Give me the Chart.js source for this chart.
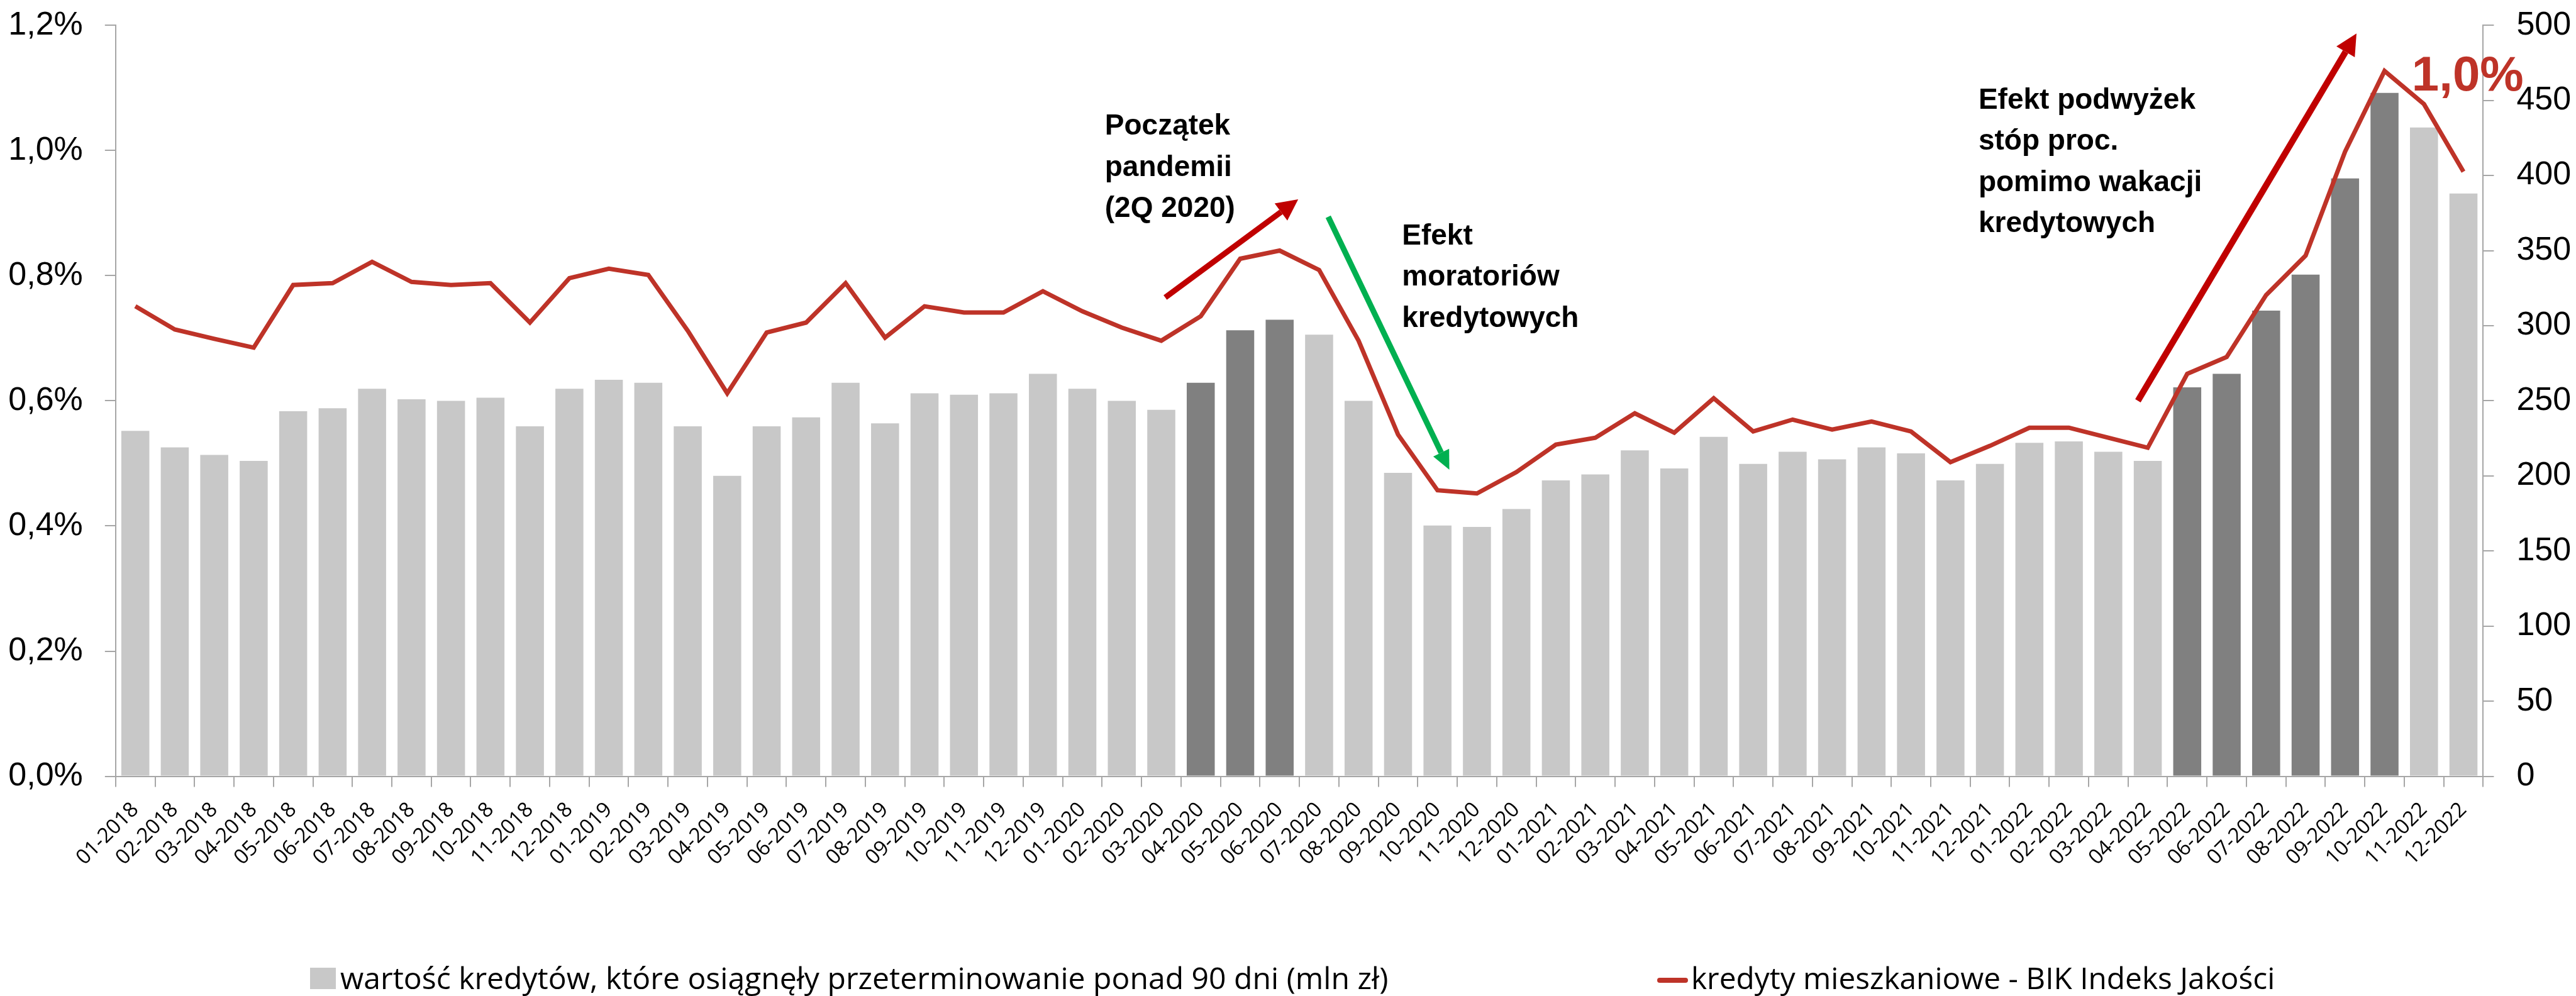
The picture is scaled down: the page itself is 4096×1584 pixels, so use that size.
<!DOCTYPE html>
<html>
<head>
<meta charset="utf-8">
<script src="https://cdn.jsdelivr.net/npm/chart.js@4.4.0/dist/chart.umd.min.js"></script>
<style>
  html, body { margin: 0; padding: 0; background: #fff; }
</style>
</head>
<body>
<canvas id="bikChart" width="4096" height="1584"></canvas>
<script>
  // Data
  const months = [
    '01-2018','02-2018','03-2018','04-2018','05-2018','06-2018','07-2018','08-2018','09-2018','10-2018','11-2018','12-2018',
    '01-2019','02-2019','03-2019','04-2019','05-2019','06-2019','07-2019','08-2019','09-2019','10-2019','11-2019','12-2019',
    '01-2020','02-2020','03-2020','04-2020','05-2020','06-2020','07-2020','08-2020','09-2020','10-2020','11-2020','12-2020',
    '01-2021','02-2021','03-2021','04-2021','05-2021','06-2021','07-2021','08-2021','09-2021','10-2021','11-2021','12-2021',
    '01-2022','02-2022','03-2022','04-2022','05-2022','06-2022','07-2022','08-2022','09-2022','10-2022','11-2022','12-2022'
  ];

  // wartość kredytów z opóźnieniem 90+ dni (mln zł), prawa oś
  const overdueValues = [
    230, 219, 214, 210, 243, 245, 258, 251, 250, 252, 233, 258,
    264, 262, 233, 200, 233, 239, 262, 235, 255, 254, 255, 268,
    258, 250, 244, 262, 297, 304, 294, 250, 202, 167, 166, 178,
    197, 201, 217, 205, 226, 208, 216, 211, 219, 215, 197, 208,
    222, 223, 216, 210, 259, 268, 310, 334, 398, 455, 432, 388
  ];

  // BIK Indeks Jakości (%), lewa oś
  const qualityIndex = [
    0.751, 0.714, 0.699, 0.685, 0.785, 0.788, 0.822, 0.790, 0.785, 0.788, 0.725, 0.796,
    0.811, 0.801, 0.712, 0.612, 0.709, 0.725, 0.788, 0.701, 0.751, 0.741, 0.741, 0.775,
    0.743, 0.717, 0.696, 0.735, 0.827, 0.840, 0.809, 0.696, 0.546, 0.457, 0.452, 0.486,
    0.530, 0.541, 0.580, 0.549, 0.604, 0.551, 0.570, 0.554, 0.567, 0.551, 0.502, 0.528,
    0.557, 0.557, 0.541, 0.525, 0.643, 0.670, 0.769, 0.832, 0.998, 1.127, 1.074, 0.966
  ];

  const highlightedMonths = ['04-2020','05-2020','06-2020','05-2022','06-2022','07-2022','08-2022','09-2022','10-2022'];

  const percentTicks = ['0,0%','0,2%','0,4%','0,6%','0,8%','1,0%','1,2%'];
  const valueTicks = ['0','50','100','150','200','250','300','350','400','450','500'];

  const barLabel = 'wartość kredytów, które osiągnęły przeterminowanie ponad 90 dni (mln zł)';
  const lineLabel = 'kredyty mieszkaniowe - BIK Indeks Jakości';

  const LIGHT = '#C8C8C8';
  const DARK = '#808080';
  const LINE_RED = '#BE3328';
  const AXIS = '#A6A6A6';
  const TICK_FONT = "'Liberation Sans', Arial, sans-serif";
  const LABEL_FONT = "'Open Sans', 'Noto Sans', sans-serif";
  const BOLD_FONT = "'Liberation Sans', Arial, sans-serif";

  function drawArrow(ctx, x1, y1, x2, y2, color, width, headLen, headHalf) {
    const ang = Math.atan2(y2 - y1, x2 - x1);
    const bx = x2 - headLen * Math.cos(ang);
    const by = y2 - headLen * Math.sin(ang);
    ctx.strokeStyle = color;
    ctx.lineWidth = width;
    ctx.lineCap = 'butt';
    ctx.beginPath();
    ctx.moveTo(x1, y1);
    ctx.lineTo(bx, by);
    ctx.stroke();
    ctx.fillStyle = color;
    ctx.beginPath();
    ctx.moveTo(x2, y2);
    ctx.lineTo(bx + headHalf * Math.sin(ang), by - headHalf * Math.cos(ang));
    ctx.lineTo(bx - headHalf * Math.sin(ang), by + headHalf * Math.cos(ang));
    ctx.closePath();
    ctx.fill();
  }

  // set a font size so that text takes the given width
  function fitText(ctx, text, width, family) {
    ctx.font = '100px ' + family;
    const size = 100 * width / ctx.measureText(text).width;
    ctx.font = size.toFixed(1) + 'px ' + family;
  }

  // arrows + comments, placed in data coordinates (category index, % on left axis)
  const annotationsPlugin = {
    id: 'annotations',
    afterDatasetsDraw(chart) {
      const { ctx, scales: { x, y } } = chart;
      const X = i => x.getPixelForValue(i);
      const Y = v => y.getPixelForValue(v);
      ctx.save();

      drawArrow(ctx, X(26.10), Y(0.765), X(29.47), Y(0.922), '#C00000', 9, 34, 17);
      drawArrow(ctx, X(30.23), Y(0.894), X(33.30), Y(0.490), '#00B050', 9, 30, 14);
      drawArrow(ctx, X(50.75), Y(0.600), X(56.29), Y(1.187), '#C00000', 10, 34, 17);

      ctx.fillStyle = '#000';
      ctx.textAlign = 'left';
      ctx.textBaseline = 'alphabetic';
      ctx.font = 'bold 46px ' + BOLD_FONT;
      const lh = 65.5;
      const block = (lines, i, v) => {
        lines.forEach((t, k) => ctx.fillText(t, X(i), Y(v) + k * lh));
      };
      block(['Początek', 'pandemii', '(2Q 2020)'], 24.57, 1.025);
      block(['Efekt', 'moratoriów', 'kredytowych'], 32.10, 0.850);
      block(['Efekt podwyżek', 'stóp proc.', 'pomimo wakacji', 'kredytowych'], 46.71, 1.067);

      ctx.fillStyle = LINE_RED;
      ctx.font = 'bold 78px ' + BOLD_FONT;
      ctx.fillText('1,0%', X(57.69), Y(1.096));
      ctx.restore();
    },
    afterDraw(chart) {
      const ctx = chart.ctx;
      ctx.save();
      ctx.textAlign = 'left';
      ctx.textBaseline = 'alphabetic';
      // bar item
      ctx.fillStyle = LIGHT;
      ctx.fillRect(493, 1539, 41, 34);
      ctx.fillStyle = '#000';
      fitText(ctx, barLabel, 1665, LABEL_FONT);
      ctx.fillText(barLabel, 541, 1573);
      // line item
      ctx.strokeStyle = LINE_RED;
      ctx.lineWidth = 8;
      ctx.lineCap = 'round';
      ctx.beginPath();
      ctx.moveTo(2639, 1559);
      ctx.lineTo(2680, 1559);
      ctx.stroke();
      fitText(ctx, lineLabel, 928, LABEL_FONT);
      ctx.fillText(lineLabel, 2689, 1573);
      ctx.restore();
    }
  };

  const ctx = document.getElementById('bikChart').getContext('2d');
  const bikChart = new Chart(ctx, {
    data: {
      labels: months,
      datasets: [
        {
          type: 'line',
          label: lineLabel,
          data: qualityIndex,
          yAxisID: 'y',
          borderColor: LINE_RED,
          borderWidth: 7,
          pointRadius: 0,
          tension: 0,
          fill: false,
          order: 0
        },
        {
          type: 'bar',
          label: barLabel,
          data: overdueValues,
          yAxisID: 'y1',
          backgroundColor: months.map(m => highlightedMonths.includes(m) ? DARK : LIGHT),
          barPercentage: 0.71,
          categoryPercentage: 1.0,
          order: 1
        }
      ]
    },
    options: {
      responsive: false,
      animation: false,
      devicePixelRatio: 1,
      layout: { padding: { top: 40.2, left: 0, right: 0, bottom: 0 } },
      plugins: {
        legend: { display: false },
        tooltip: { enabled: false }
      },
      scales: {
        x: {
          grid: { drawOnChartArea: false, drawTicks: true, tickLength: 17, color: AXIS, lineWidth: 2 },
          border: { color: AXIS, width: 2 },
          ticks: {
            autoSkip: false, minRotation: 45, maxRotation: 45, padding: 17,
            color: '#000', font: { size: 33, family: LABEL_FONT }
          },
          afterFit: s => { s.height = 349.4; }
        },
        y: {
          position: 'left',
          min: 0, max: 1.2,
          grid: { drawOnChartArea: false, tickLength: 17, color: AXIS, lineWidth: 2 },
          border: { color: AXIS, width: 2 },
          ticks: {
            stepSize: 0.2, padding: 35, color: '#000',
            font: { size: 52, family: TICK_FONT },
            callback: (v, i) => percentTicks[i]
          },
          afterFit: s => { s.width = 183.8; s.paddingTop = 0; s.paddingBottom = 0; }
        },
        y1: {
          position: 'right',
          min: 0, max: 500,
          grid: { drawOnChartArea: false, tickLength: 17, color: AXIS, lineWidth: 2 },
          border: { color: AXIS, width: 2 },
          ticks: {
            stepSize: 50, padding: 36, color: '#000',
            font: { size: 52, family: TICK_FONT },
            callback: (v, i) => valueTicks[i]
          },
          afterFit: s => { s.width = 147.6; s.paddingTop = 0; s.paddingBottom = 0; }
        }
      }
    },
    plugins: [annotationsPlugin]
  });
</script>
</body>
</html>
